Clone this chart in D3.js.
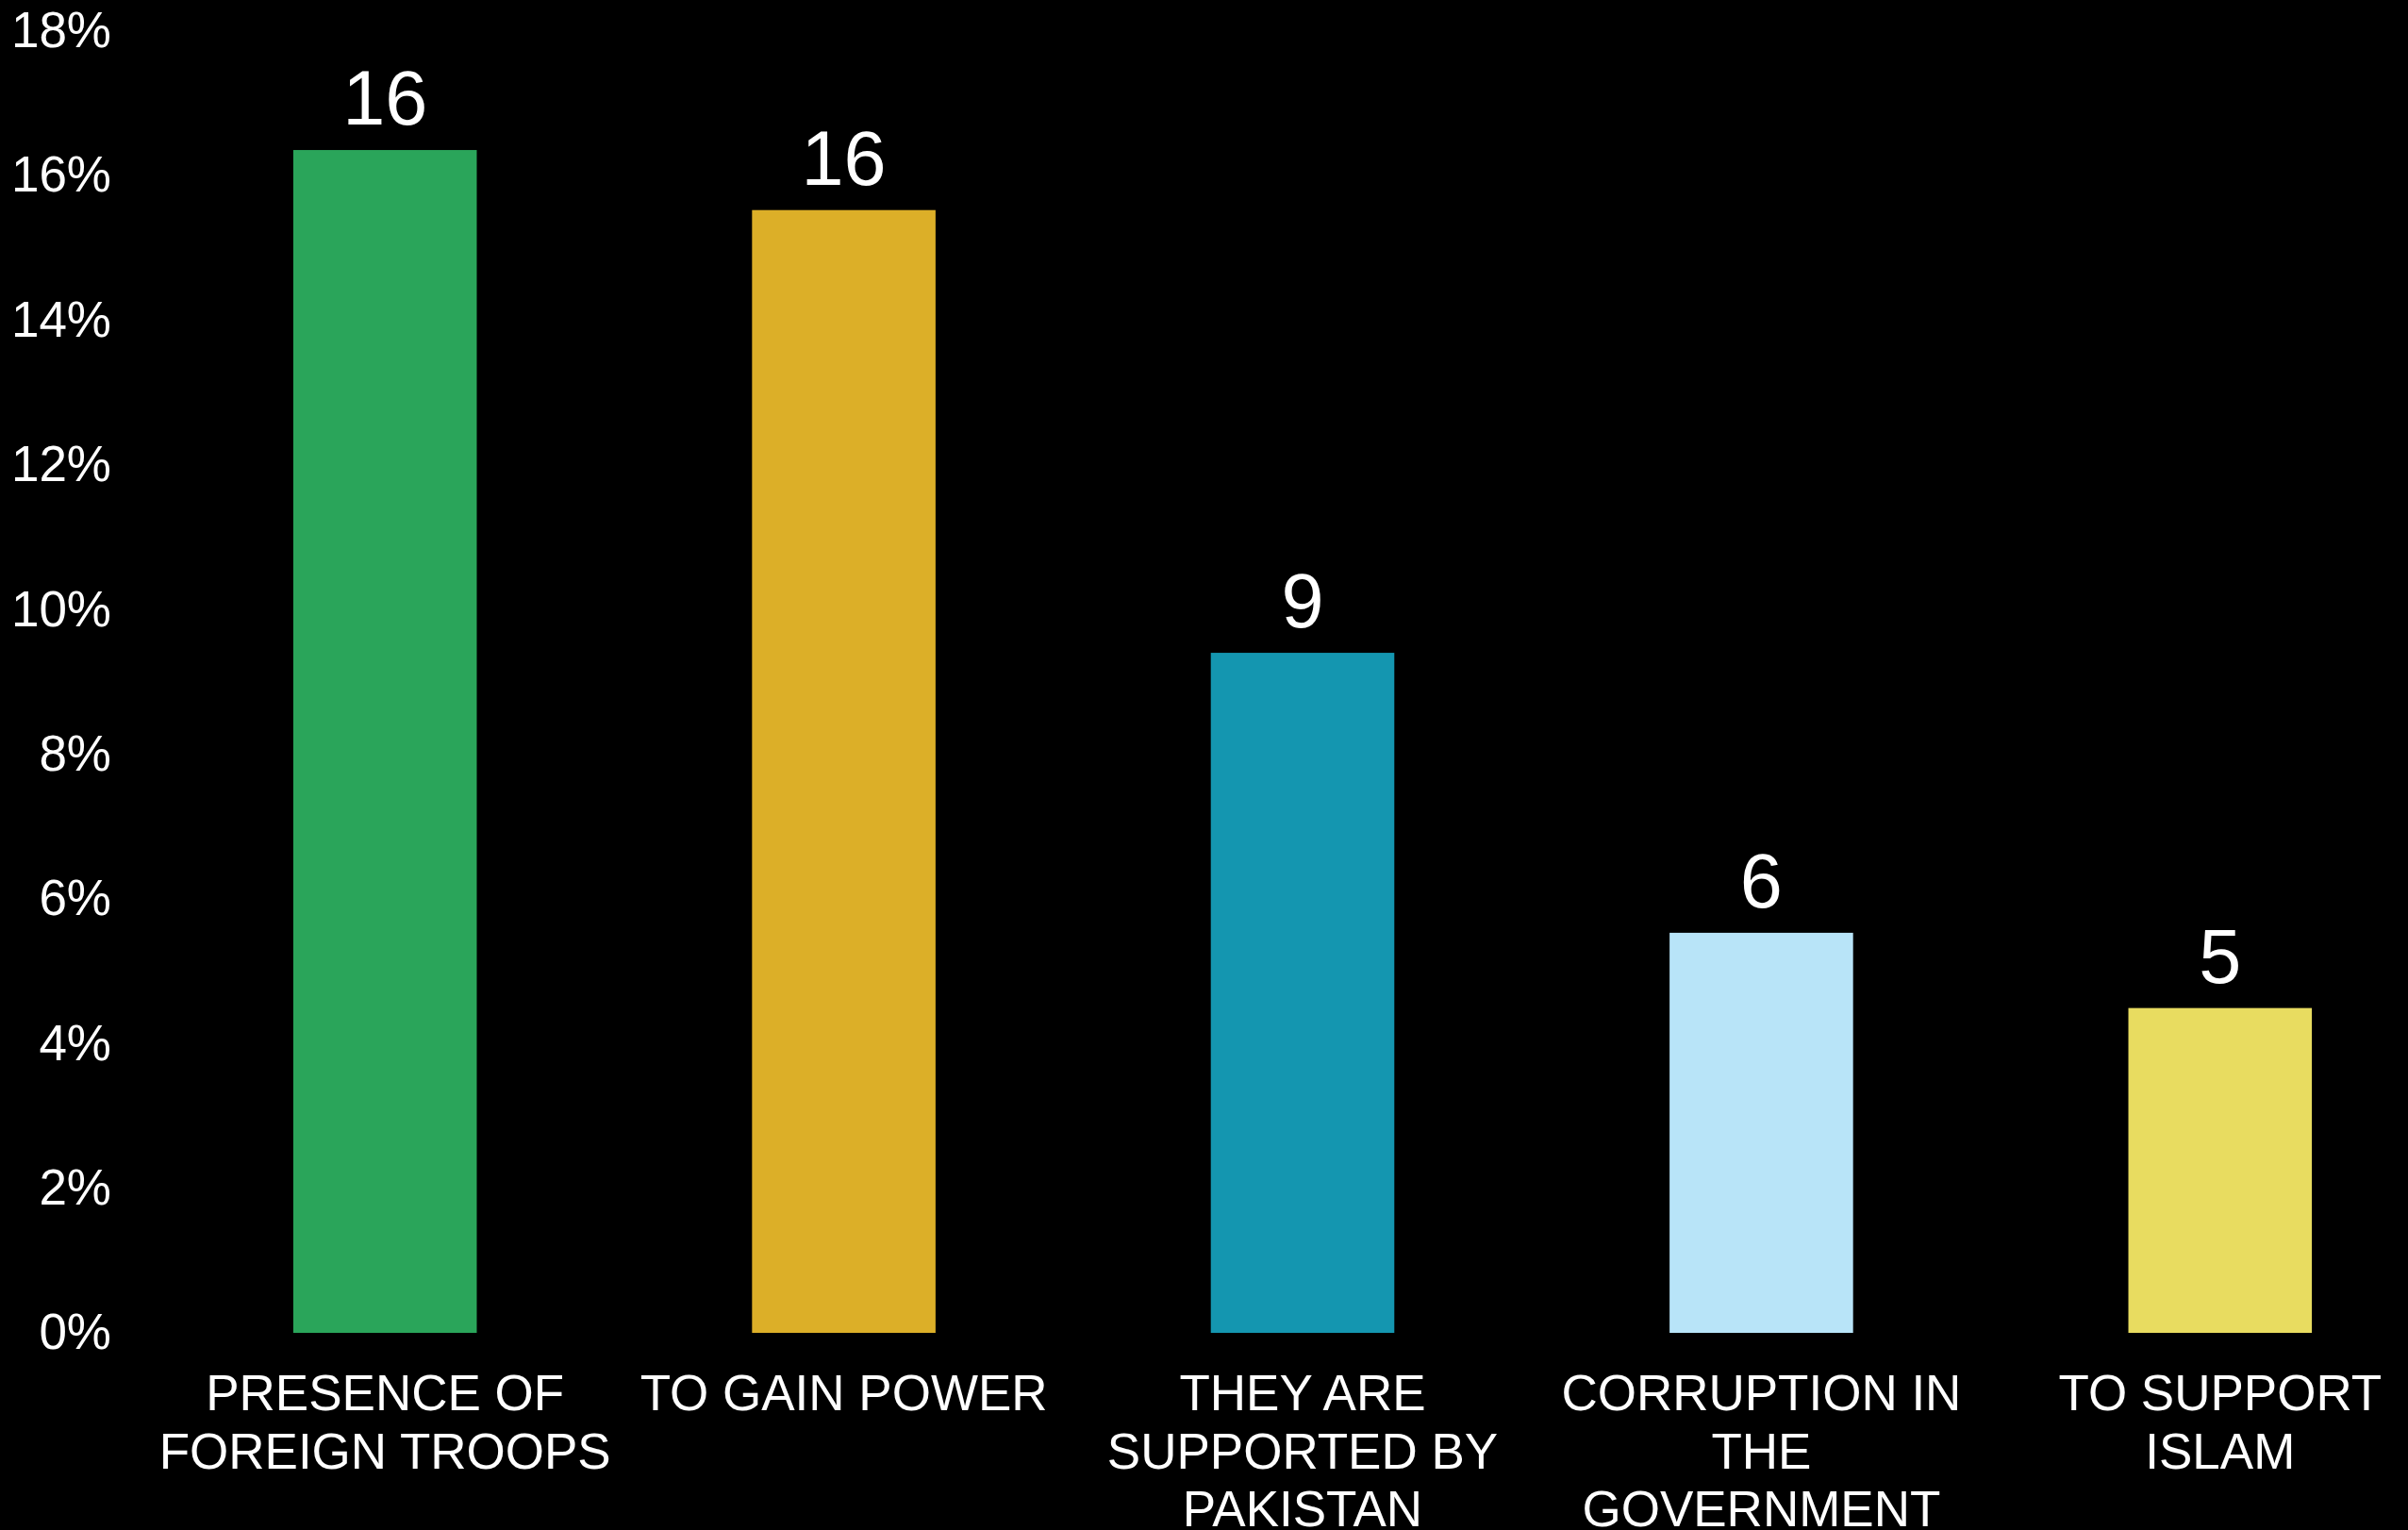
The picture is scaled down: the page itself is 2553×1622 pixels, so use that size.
<!DOCTYPE html>
<html>
<head>
<meta charset="utf-8">
<script src="https://cdn.jsdelivr.net/npm/d3@7"></script>
<style>
  html, body { margin: 0; padding: 0; background: #000; overflow: hidden; }
  svg { display: block; }
  text { font-family: "Liberation Sans", Arial, sans-serif; fill: #fff; }
</style>
</head>
<body>
<svg id="chart" width="2553" height="1622"></svg>
<script>
// ---- data ----
const categories = [
  "PRESENCE OF\nFOREIGN TROOPS",
  "TO GAIN POWER",
  "THEY ARE\nSUPPORTED BY\nPAKISTAN",
  "CORRUPTION IN\nTHE\nGOVERNMENT",
  "TO SUPPORT\nISLAM"
];
const values = [16.35, 15.52, 9.40, 5.53, 4.49];
const valueLabels = ["16", "16", "9", "6", "5"];
const barColors = ["#2AA55A", "#DCAF28", "#1496B0", "#B8E4F8", "#E8DC60"];
const yTicks = [0, 2, 4, 6, 8, 10, 12, 14, 16, 18];

// ---- layout ----
const svg = d3.select("#chart");
svg.append("rect").attr("width", 2553).attr("height", 1622).attr("fill", "#000");

const x = d3.scaleBand()
  .domain(categories)
  .range([165, 2597])
  .paddingInner(0.6)
  .paddingOuter(0.3);

const y = d3.scaleLinear()
  .domain([0, 18])
  .range([1413, 32.5]);

// y axis
const yAxis = d3.axisLeft(y)
  .tickValues(yTicks)
  .tickFormat(d => d + "%")
  .tickSize(0)
  .tickPadding(0);

const ga = svg.append("g").attr("transform", "translate(118,0)").call(yAxis);
ga.select(".domain").remove();
ga.selectAll("text")
  .attr("fill", "#fff")
  .style("font-family", '"Liberation Sans", Arial, sans-serif')
  .style("font-size", "53px")
  .attr("text-anchor", "end");

// bars
svg.append("g").selectAll("rect")
  .data(categories)
  .join("rect")
  .attr("x", d => x(d))
  .attr("width", x.bandwidth())
  .attr("y", (d, i) => y(values[i]))
  .attr("height", (d, i) => y(0) - y(values[i]))
  .attr("fill", (d, i) => barColors[i]);

// value labels
svg.append("g").selectAll("text")
  .data(categories)
  .join("text")
  .attr("x", d => x(d) + x.bandwidth() / 2)
  .attr("y", (d, i) => y(values[i]) - 27)
  .attr("text-anchor", "middle")
  .style("font-size", "81px")
  .text((d, i) => valueLabels[i]);

// category labels
const cl = svg.append("g").selectAll("text")
  .data(categories)
  .join("text")
  .attr("x", d => x(d) + x.bandwidth() / 2)
  .attr("y", 1495)
  .attr("text-anchor", "middle")
  .style("font-size", "53px");

cl.each(function(d) {
  const t = d3.select(this);
  const cx = x(d) + x.bandwidth() / 2;
  d.split("\n").forEach((line, k) => {
    t.append("tspan")
      .attr("x", cx)
      .attr("y", 1495 + k * 61.5)
      .text(line);
  });
});
</script>
</body>
</html>
